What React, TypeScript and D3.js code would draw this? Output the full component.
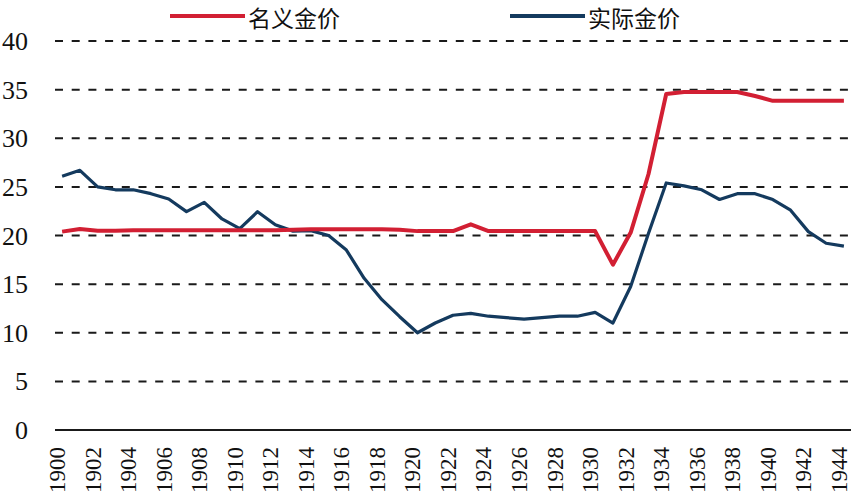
import React, { useRef, useEffect } from "react";
import { select, scaleLinear, scalePoint, line } from "d3";

const years = [
  1900, 1901, 1902, 1903, 1904, 1905, 1906, 1907, 1908, 1909, 1910, 1911,
  1912, 1913, 1914, 1915, 1916, 1917, 1918, 1919, 1920, 1921, 1922, 1923,
  1924, 1925, 1926, 1927, 1928, 1929, 1930, 1931, 1932, 1933, 1934, 1935,
  1936, 1937, 1938, 1939, 1940, 1941, 1942, 1943, 1944,
];

// 名义金价
const nominal = [
  20.4, 20.67, 20.5, 20.5, 20.55, 20.55, 20.55, 20.55, 20.55, 20.55, 20.55,
  20.55, 20.55, 20.6, 20.65, 20.65, 20.65, 20.65, 20.65, 20.6, 20.45, 20.45,
  20.45, 21.15, 20.45, 20.45, 20.45, 20.45, 20.45, 20.45, 20.45, 17.0, 20.3,
  26.3, 34.55, 34.75, 34.75, 34.75, 34.75, 34.35, 33.85, 33.85, 33.85, 33.85,
  33.85,
];

// 实际金价
const real = [
  26.1, 26.7, 25.0, 24.7, 24.7, 24.3, 23.75, 22.45, 23.4, 21.7, 20.7, 22.45,
  21.1, 20.45, 20.5, 20.0, 18.5, 15.6, 13.4, 11.65, 10.0, 11.0, 11.8, 12.0,
  11.7, 11.55, 11.4, 11.55, 11.7, 11.7, 12.1, 11.0, 14.75, 20.2, 25.4, 25.1,
  24.7, 23.7, 24.3, 24.3, 23.7, 22.6, 20.4, 19.2, 18.9,
];

const yTicks = [0, 5, 10, 15, 20, 25, 30, 35, 40];
const xTickYears = years.filter((y) => (y - 1900) % 2 === 0);

const seriesNames = ["名义金价", "实际金价"];
const RED = "#d21f33";
const BLUE = "#143a5e";

const W = 853;
const H = 501;

const App = () => {
  const ref = useRef<SVGSVGElement>(null);

  useEffect(() => {
    const svg = select(ref.current);
    svg.selectAll("*").remove();

    const xScale = scalePoint<number>()
      .domain(years)
      .range([55, 851])
      .padding(0.4);
    const yScale = scaleLinear().domain([0, 40]).range([430, 41]);

    const serif =
      '"Liberation Serif", "DejaVu Serif", "Times New Roman", Times, serif';

    // dashed gridlines
    svg
      .append("g")
      .selectAll("line")
      .data(yTicks.filter((t) => t > 0))
      .enter()
      .append("line")
      .attr("x1", 55)
      .attr("x2", 851)
      .attr("y1", (d) => yScale(d))
      .attr("y2", (d) => yScale(d))
      .attr("stroke", "#1a1a1a")
      .attr("stroke-width", 2)
      .attr("stroke-dasharray", "8,8.7");

    // axis line
    svg
      .append("line")
      .attr("x1", 55)
      .attr("x2", 851)
      .attr("y1", yScale(0))
      .attr("y2", yScale(0))
      .attr("stroke", "#1a1a1a")
      .attr("stroke-width", 2);

    // y labels
    svg
      .append("g")
      .selectAll("text")
      .data(yTicks)
      .enter()
      .append("text")
      .attr("x", 28)
      .attr("y", (d) => yScale(d))
      .attr("dy", "0.35em")
      .attr("text-anchor", "end")
      .style("font-family", serif)
      .style("font-size", "26px")
      .attr("fill", "#111")
      .text((d) => d);

    // x labels (rotated)
    svg
      .append("g")
      .selectAll("text")
      .data(xTickYears)
      .enter()
      .append("text")
      .attr(
        "transform",
        (d) => `translate(${(xScale(d) as number) - 4}, 447) rotate(-90)`
      )
      .attr("dy", "0.3em")
      .attr("text-anchor", "end")
      .style("font-family", serif)
      .style("font-size", "23px")
      .attr("fill", "#111")
      .text((d) => d);

    const lineGen = line<number>()
      .x((_, i) => xScale(years[i]) as number)
      .y((d) => yScale(d));

    svg
      .append("path")
      .datum(real)
      .attr("fill", "none")
      .attr("stroke", BLUE)
      .attr("stroke-width", 3.2)
      .attr("stroke-linejoin", "round")
      .attr("d", lineGen);

    svg
      .append("path")
      .datum(nominal)
      .attr("fill", "none")
      .attr("stroke", RED)
      .attr("stroke-width", 4)
      .attr("stroke-linejoin", "round")
      .attr("d", lineGen);

    // legend
    const legendX = [170, 510];
    const colors = [RED, BLUE];
    seriesNames.forEach((name, i) => {
      svg
        .append("line")
        .attr("x1", legendX[i])
        .attr("x2", legendX[i] + 75)
        .attr("y1", 16)
        .attr("y2", 16)
        .attr("stroke", colors[i])
        .attr("stroke-width", 4);
      svg
        .append("text")
        .attr("x", legendX[i] + 78)
        .attr("y", 27)
        .style("font-family", '"Noto Sans CJK SC", sans-serif')
        .style("font-size", "23px")
        .attr("fill", "#111")
        .text(name);
    });
  }, []);

  return (
    <svg
      ref={ref}
      width={W}
      height={H}
      style={{ position: "absolute", left: 0, top: 0, background: "#fff" }}
    />
  );
};

export default App;
